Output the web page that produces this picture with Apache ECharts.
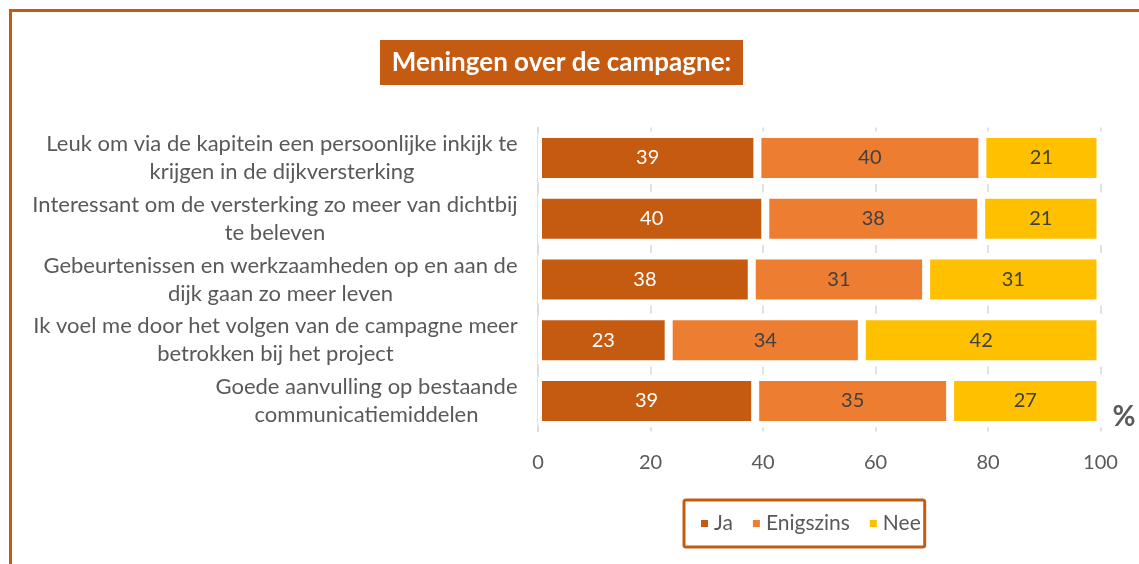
<!DOCTYPE html>
<html>
<head>
<meta charset="utf-8">
<title>Meningen over de campagne</title>
<script src="https://cdn.jsdelivr.net/npm/echarts@6/dist/echarts.min.js"></script>
<style>
  html, body { margin: 0; padding: 0; background: #fff; }
  #chart { width: 1139px; height: 564px; }
</style>
</head>
<body>
<div id="chart"></div>
<script>
var categories = [
  "Leuk om via de kapitein een persoonlijke inkijk te\nkrijgen in de dijkversterking",
  "Interessant om de versterking zo meer van dichtbij\nte beleven",
  "Gebeurtenissen en werkzaamheden op en aan de\ndijk gaan zo meer leven",
  "Ik voel me door het volgen van de campagne meer\nbetrokken bij het project",
  "Goede aanvulling op bestaande\ncommunicatiemiddelen"
];
var ja = [39, 40, 38, 23, 39];
var enigszins = [40, 38, 31, 34, 35];
var nee = [21, 21, 31, 42, 27];
var xTicks = [0, 20, 40, 60, 80, 100];

var font = "Lato";
var textGray = "#595959";
var labelSize = 22;

// 100% gestapeld: aandeel per rij
function share(arr) {
  return arr.map(function (v, i) {
    return (v / (ja[i] + enigszins[i] + nee[i])) * 100;
  });
}

// regels van elk label centreren binnen een eigen breedte
var ctx = document.createElement("canvas").getContext("2d");
ctx.font = labelSize + "px " + font;
var rich = {};
categories.forEach(function (c, i) {
  var w = 0;
  c.split("\n").forEach(function (l) {
    w = Math.max(w, ctx.measureText(l).width);
  });
  rich["c" + i] = {
    width: Math.ceil(w) + 2,
    align: "center",
    fontSize: labelSize,
    fontFamily: font,
    color: textGray,
    lineHeight: 28,
  };
});

function barSeries(name, values, color, labelColor) {
  return {
    name: name,
    type: "bar",
    stack: "total",
    barWidth: 48,
    data: share(values),
    itemStyle: { color: color, borderColor: "#fff", borderWidth: 4 },
    label: {
      show: true,
      position: "inside",
      fontSize: 20,
      fontFamily: font,
      color: labelColor,
      formatter: function (p) {
        return values[p.dataIndex];
      },
    },
  };
}

var chart = echarts.init(document.getElementById("chart"));
chart.setOption({
  animation: false,
  textStyle: { fontFamily: font },
  title: {
    text: "{t|Meningen over de campagne:}",
    left: 380,
    top: 40,
    padding: 0,
    textStyle: {
      rich: {
        t: {
          width: 363,
          height: 45,
          lineHeight: 45,
          align: "center",
          backgroundColor: "#C55A11",
          color: "#fff",
          fontSize: 26,
          fontWeight: "bold",
          fontFamily: font,
        },
      },
    },
  },
  legend: {
    data: ["Ja", "Enigszins", "Nee"],
    left: 684,
    top: 500,
    padding: [13, 4, 13, 15],
    itemGap: 18,
    itemWidth: 9,
    itemHeight: 9,
    icon: "rect",
    borderColor: "#C55A11",
    borderWidth: 3,
    borderRadius: 2,
    textStyle: { fontSize: 21, fontFamily: font, color: textGray },
  },
  grid: { left: 538, right: 38.5, top: 127.6, bottom: 132.6 },
  xAxis: {
    type: "value",
    min: 0,
    max: 100,
    interval: 20,
    name: "%",
    nameLocation: "end",
    nameGap: 12,
    nameTextStyle: {
      fontSize: 28,
      fontWeight: "bold",
      color: textGray,
      align: "left",
      verticalAlign: "bottom",
      fontFamily: font,
    },
    axisLine: { show: false },
    axisTick: { show: false },
    axisLabel: {
      margin: 21,
      fontSize: 20,
      color: textGray,
      fontFamily: font,
      formatter: function (v) {
        return xTicks.indexOf(v) >= 0 ? String(v) : "";
      },
    },
    splitLine: {
      lineStyle: { color: "#d9d9d9", width: 1.5, type: [8, 52.75], dashOffset: 4 },
    },
  },
  yAxis: {
    type: "category",
    inverse: true,
    data: categories,
    axisLine: { show: true, lineStyle: { color: "#d9d9d9", width: 1.5 } },
    axisTick: { show: false },
    axisLabel: {
      margin: 19,
      align: "right",
      formatter: function (value, index) {
        return value
          .split("\n")
          .map(function (l) {
            return "{c" + index + "|" + l + "}";
          })
          .join("\n");
      },
      rich: rich,
    },
  },
  graphic: [
    {
      type: "rect",
      shape: { x: 10.5, y: 10.5, width: 1300, height: 700 },
      style: { fill: "none", stroke: "#C55A11", lineWidth: 3 },
      silent: true,
    },
  ],
  series: [
    barSeries("Ja", ja, "#C55A11", "#fff"),
    barSeries("Enigszins", enigszins, "#ED7D31", "#404040"),
    barSeries("Nee", nee, "#FFC000", "#404040"),
  ],
});
</script>
</body>
</html>
